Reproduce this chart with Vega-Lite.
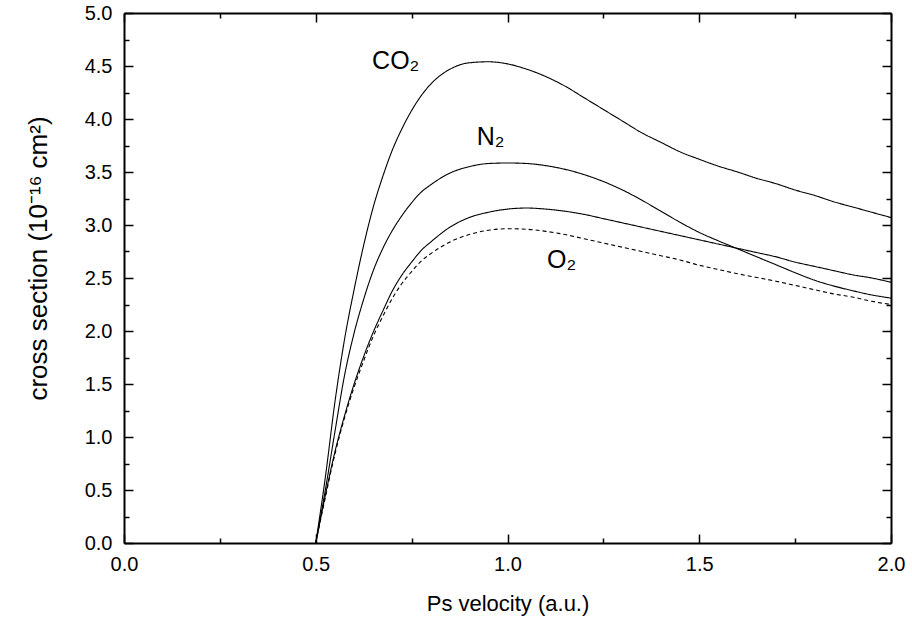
{
  "$schema": "https://vega.github.io/schema/vega-lite/v6.json",
  "width": 767,
  "height": 530,
  "autosize": {"type": "none"},
  "padding": {"left": 124, "top": 13, "right": 21, "bottom": 75},
  "background": "white",
  "config": {
    "view": {"stroke": null},
    "font": "Liberation Sans",
    "axis": {
      "domainColor": "black",
      "domainWidth": 2,
      "tickColor": "black",
      "tickWidth": 1.5,
      "labelColor": "black",
      "labelFont": "Liberation Sans",
      "labelFontSize": 20,
      "titleFont": "Liberation Sans",
      "titleFontSize": 22,
      "titleFontWeight": "normal",
      "titleColor": "black",
      "grid": false,
      "labelOverlap": false,
      "labelFlush": false,
      "labelBound": false
    }
  },
  "datasets": {
    "curves": [
      {"curve": "CO2", "v": 0.5, "sigma": 0},
      {"curve": "CO2", "v": 0.525, "sigma": 0.62},
      {"curve": "CO2", "v": 0.55, "sigma": 1.33},
      {"curve": "CO2", "v": 0.575, "sigma": 1.92},
      {"curve": "CO2", "v": 0.6, "sigma": 2.39},
      {"curve": "CO2", "v": 0.625, "sigma": 2.81},
      {"curve": "CO2", "v": 0.65, "sigma": 3.17},
      {"curve": "CO2", "v": 0.675, "sigma": 3.46},
      {"curve": "CO2", "v": 0.7, "sigma": 3.71},
      {"curve": "CO2", "v": 0.725, "sigma": 3.91},
      {"curve": "CO2", "v": 0.75, "sigma": 4.08},
      {"curve": "CO2", "v": 0.775, "sigma": 4.22},
      {"curve": "CO2", "v": 0.8, "sigma": 4.33},
      {"curve": "CO2", "v": 0.85, "sigma": 4.47},
      {"curve": "CO2", "v": 0.9, "sigma": 4.53},
      {"curve": "CO2", "v": 0.95, "sigma": 4.54},
      {"curve": "CO2", "v": 1.0, "sigma": 4.52},
      {"curve": "CO2", "v": 1.05, "sigma": 4.47},
      {"curve": "CO2", "v": 1.1, "sigma": 4.40},
      {"curve": "CO2", "v": 1.15, "sigma": 4.31},
      {"curve": "CO2", "v": 1.2, "sigma": 4.20},
      {"curve": "CO2", "v": 1.25, "sigma": 4.09},
      {"curve": "CO2", "v": 1.3, "sigma": 3.98},
      {"curve": "CO2", "v": 1.35, "sigma": 3.87},
      {"curve": "CO2", "v": 1.4, "sigma": 3.78},
      {"curve": "CO2", "v": 1.45, "sigma": 3.69},
      {"curve": "CO2", "v": 1.5, "sigma": 3.62},
      {"curve": "CO2", "v": 1.55, "sigma": 3.555},
      {"curve": "CO2", "v": 1.6, "sigma": 3.50},
      {"curve": "CO2", "v": 1.65, "sigma": 3.44},
      {"curve": "CO2", "v": 1.7, "sigma": 3.39},
      {"curve": "CO2", "v": 1.75, "sigma": 3.33},
      {"curve": "CO2", "v": 1.8, "sigma": 3.28},
      {"curve": "CO2", "v": 1.85, "sigma": 3.22},
      {"curve": "CO2", "v": 1.9, "sigma": 3.17},
      {"curve": "CO2", "v": 1.95, "sigma": 3.12},
      {"curve": "CO2", "v": 2.0, "sigma": 3.07},
      {"curve": "N2", "v": 0.5, "sigma": 0},
      {"curve": "N2", "v": 0.525, "sigma": 0.50},
      {"curve": "N2", "v": 0.55, "sigma": 1.05},
      {"curve": "N2", "v": 0.575, "sigma": 1.58},
      {"curve": "N2", "v": 0.6, "sigma": 1.98},
      {"curve": "N2", "v": 0.625, "sigma": 2.30},
      {"curve": "N2", "v": 0.65, "sigma": 2.57},
      {"curve": "N2", "v": 0.675, "sigma": 2.78},
      {"curve": "N2", "v": 0.7, "sigma": 2.95},
      {"curve": "N2", "v": 0.725, "sigma": 3.09},
      {"curve": "N2", "v": 0.75, "sigma": 3.21},
      {"curve": "N2", "v": 0.775, "sigma": 3.31},
      {"curve": "N2", "v": 0.8, "sigma": 3.38},
      {"curve": "N2", "v": 0.85, "sigma": 3.49},
      {"curve": "N2", "v": 0.9, "sigma": 3.55},
      {"curve": "N2", "v": 0.95, "sigma": 3.58},
      {"curve": "N2", "v": 1.0, "sigma": 3.585},
      {"curve": "N2", "v": 1.05, "sigma": 3.58},
      {"curve": "N2", "v": 1.1, "sigma": 3.56},
      {"curve": "N2", "v": 1.15, "sigma": 3.525},
      {"curve": "N2", "v": 1.2, "sigma": 3.475},
      {"curve": "N2", "v": 1.25, "sigma": 3.41},
      {"curve": "N2", "v": 1.3, "sigma": 3.33},
      {"curve": "N2", "v": 1.35, "sigma": 3.235},
      {"curve": "N2", "v": 1.4, "sigma": 3.13},
      {"curve": "N2", "v": 1.45, "sigma": 3.025},
      {"curve": "N2", "v": 1.5, "sigma": 2.93},
      {"curve": "N2", "v": 1.55, "sigma": 2.85},
      {"curve": "N2", "v": 1.6, "sigma": 2.775},
      {"curve": "N2", "v": 1.65, "sigma": 2.70},
      {"curve": "N2", "v": 1.7, "sigma": 2.625},
      {"curve": "N2", "v": 1.75, "sigma": 2.55},
      {"curve": "N2", "v": 1.8, "sigma": 2.48},
      {"curve": "N2", "v": 1.85, "sigma": 2.425},
      {"curve": "N2", "v": 1.9, "sigma": 2.38},
      {"curve": "N2", "v": 1.95, "sigma": 2.34},
      {"curve": "N2", "v": 2.0, "sigma": 2.31},
      {"curve": "O2 (solid)", "v": 0.5, "sigma": 0},
      {"curve": "O2 (solid)", "v": 0.525, "sigma": 0.45},
      {"curve": "O2 (solid)", "v": 0.55, "sigma": 0.86},
      {"curve": "O2 (solid)", "v": 0.575, "sigma": 1.20},
      {"curve": "O2 (solid)", "v": 0.6, "sigma": 1.50},
      {"curve": "O2 (solid)", "v": 0.625, "sigma": 1.76},
      {"curve": "O2 (solid)", "v": 0.65, "sigma": 1.99},
      {"curve": "O2 (solid)", "v": 0.675, "sigma": 2.19},
      {"curve": "O2 (solid)", "v": 0.7, "sigma": 2.38},
      {"curve": "O2 (solid)", "v": 0.725, "sigma": 2.53},
      {"curve": "O2 (solid)", "v": 0.75, "sigma": 2.65},
      {"curve": "O2 (solid)", "v": 0.775, "sigma": 2.76},
      {"curve": "O2 (solid)", "v": 0.8, "sigma": 2.84},
      {"curve": "O2 (solid)", "v": 0.85, "sigma": 2.98},
      {"curve": "O2 (solid)", "v": 0.9, "sigma": 3.07},
      {"curve": "O2 (solid)", "v": 0.95, "sigma": 3.12},
      {"curve": "O2 (solid)", "v": 1.0, "sigma": 3.15},
      {"curve": "O2 (solid)", "v": 1.05, "sigma": 3.16},
      {"curve": "O2 (solid)", "v": 1.1, "sigma": 3.15},
      {"curve": "O2 (solid)", "v": 1.15, "sigma": 3.13},
      {"curve": "O2 (solid)", "v": 1.2, "sigma": 3.10},
      {"curve": "O2 (solid)", "v": 1.25, "sigma": 3.06},
      {"curve": "O2 (solid)", "v": 1.3, "sigma": 3.02},
      {"curve": "O2 (solid)", "v": 1.35, "sigma": 2.98},
      {"curve": "O2 (solid)", "v": 1.4, "sigma": 2.94},
      {"curve": "O2 (solid)", "v": 1.45, "sigma": 2.90},
      {"curve": "O2 (solid)", "v": 1.5, "sigma": 2.86},
      {"curve": "O2 (solid)", "v": 1.55, "sigma": 2.82},
      {"curve": "O2 (solid)", "v": 1.6, "sigma": 2.78},
      {"curve": "O2 (solid)", "v": 1.65, "sigma": 2.74},
      {"curve": "O2 (solid)", "v": 1.7, "sigma": 2.70},
      {"curve": "O2 (solid)", "v": 1.75, "sigma": 2.65},
      {"curve": "O2 (solid)", "v": 1.8, "sigma": 2.61},
      {"curve": "O2 (solid)", "v": 1.85, "sigma": 2.57},
      {"curve": "O2 (solid)", "v": 1.9, "sigma": 2.53},
      {"curve": "O2 (solid)", "v": 1.95, "sigma": 2.50},
      {"curve": "O2 (solid)", "v": 2.0, "sigma": 2.46},
      {"curve": "O2 (dashed)", "v": 0.5, "sigma": 0},
      {"curve": "O2 (dashed)", "v": 0.525, "sigma": 0.43},
      {"curve": "O2 (dashed)", "v": 0.55, "sigma": 0.84},
      {"curve": "O2 (dashed)", "v": 0.575, "sigma": 1.18},
      {"curve": "O2 (dashed)", "v": 0.6, "sigma": 1.47},
      {"curve": "O2 (dashed)", "v": 0.625, "sigma": 1.72},
      {"curve": "O2 (dashed)", "v": 0.65, "sigma": 1.95},
      {"curve": "O2 (dashed)", "v": 0.675, "sigma": 2.14},
      {"curve": "O2 (dashed)", "v": 0.7, "sigma": 2.31},
      {"curve": "O2 (dashed)", "v": 0.725, "sigma": 2.45},
      {"curve": "O2 (dashed)", "v": 0.75, "sigma": 2.56},
      {"curve": "O2 (dashed)", "v": 0.775, "sigma": 2.66},
      {"curve": "O2 (dashed)", "v": 0.8, "sigma": 2.73},
      {"curve": "O2 (dashed)", "v": 0.85, "sigma": 2.84},
      {"curve": "O2 (dashed)", "v": 0.9, "sigma": 2.91},
      {"curve": "O2 (dashed)", "v": 0.95, "sigma": 2.95},
      {"curve": "O2 (dashed)", "v": 1.0, "sigma": 2.965},
      {"curve": "O2 (dashed)", "v": 1.05, "sigma": 2.96},
      {"curve": "O2 (dashed)", "v": 1.1, "sigma": 2.94},
      {"curve": "O2 (dashed)", "v": 1.15, "sigma": 2.91},
      {"curve": "O2 (dashed)", "v": 1.2, "sigma": 2.87},
      {"curve": "O2 (dashed)", "v": 1.25, "sigma": 2.83},
      {"curve": "O2 (dashed)", "v": 1.3, "sigma": 2.79},
      {"curve": "O2 (dashed)", "v": 1.35, "sigma": 2.75},
      {"curve": "O2 (dashed)", "v": 1.4, "sigma": 2.71},
      {"curve": "O2 (dashed)", "v": 1.45, "sigma": 2.67},
      {"curve": "O2 (dashed)", "v": 1.5, "sigma": 2.62},
      {"curve": "O2 (dashed)", "v": 1.55, "sigma": 2.58},
      {"curve": "O2 (dashed)", "v": 1.6, "sigma": 2.54},
      {"curve": "O2 (dashed)", "v": 1.65, "sigma": 2.505},
      {"curve": "O2 (dashed)", "v": 1.7, "sigma": 2.47},
      {"curve": "O2 (dashed)", "v": 1.75, "sigma": 2.43},
      {"curve": "O2 (dashed)", "v": 1.8, "sigma": 2.39},
      {"curve": "O2 (dashed)", "v": 1.85, "sigma": 2.35},
      {"curve": "O2 (dashed)", "v": 1.9, "sigma": 2.32},
      {"curve": "O2 (dashed)", "v": 1.95, "sigma": 2.28},
      {"curve": "O2 (dashed)", "v": 2.0, "sigma": 2.25}
    ],
    "labels": [
      {"label": "CO₂", "v": 0.647, "sigma": 4.47},
      {"label": "N₂", "v": 0.92, "sigma": 3.755},
      {"label": "O₂", "v": 1.103, "sigma": 2.594}
    ]
  },
  "layer": [
    {
      "data": {"name": "curves"},
      "mark": {"type": "line", "color": "black", "strokeWidth": 1.1, "interpolate": "monotone"},
      "encoding": {
        "x": {
          "field": "v", "type": "quantitative",
          "scale": {"domain": [0, 2], "nice": false, "zero": false},
          "axis": {
            "orient": "bottom",
            "values": [0, 0.25, 0.5, 0.75, 1, 1.25, 1.5, 1.75, 2],
            "labelExpr": "datum.value % 0.5 === 0 ? format(datum.value, '.1f') : ''",
            "tickSize": {"condition": {"test": "datum.value % 0.5 === 0", "value": -9}, "value": -5},
            "labelPadding": 20,
            "title": "Ps velocity (a.u.)",
            "titlePadding": 15
          }
        },
        "y": {
          "field": "sigma", "type": "quantitative",
          "scale": {"domain": [0, 5], "nice": false, "zero": false},
          "axis": {
            "orient": "left",
            "values": [0, 0.25, 0.5, 0.75, 1, 1.25, 1.5, 1.75, 2, 2.25, 2.5, 2.75, 3, 3.25, 3.5, 3.75, 4, 4.25, 4.5, 4.75, 5],
            "labelExpr": "datum.value % 0.5 === 0 ? format(datum.value, '.1f') : ''",
            "tickSize": {"condition": {"test": "datum.value % 0.5 === 0", "value": -9}, "value": -5},
            "labelPadding": 21,
            "title": "cross section (10⁻¹⁶ cm²)",
            "titleFontSize": 26,
            "titleX": -86,
            "titleY": 245,
            "titleAlign": "center",
            "titleBaseline": "middle",
            "titleAngle": -90
          }
        },
        "strokeDash": {
          "field": "curve", "type": "nominal",
          "scale": {"domain": ["CO2", "N2", "O2 (solid)", "O2 (dashed)"], "range": [[1, 0], [1, 0], [1, 0], [4, 3]]},
          "legend": null
        }
      }
    },
    {
      "data": {"name": "labels"},
      "mark": {"type": "text", "align": "left", "baseline": "alphabetic", "fontSize": 25, "font": "Liberation Sans", "color": "black"},
      "encoding": {
        "x": {
          "field": "v", "type": "quantitative",
          "scale": {"domain": [0, 2], "nice": false, "zero": false},
          "axis": {
            "orient": "top",
            "values": [0, 0.25, 0.5, 0.75, 1, 1.25, 1.5, 1.75, 2],
            "labels": false,
            "tickSize": {"condition": {"test": "datum.value % 0.5 === 0", "value": -9}, "value": -5},
            "title": null
          }
        },
        "y": {
          "field": "sigma", "type": "quantitative",
          "scale": {"domain": [0, 5], "nice": false, "zero": false},
          "axis": {
            "orient": "right",
            "values": [0, 0.25, 0.5, 0.75, 1, 1.25, 1.5, 1.75, 2, 2.25, 2.5, 2.75, 3, 3.25, 3.5, 3.75, 4, 4.25, 4.5, 4.75, 5],
            "labels": false,
            "tickSize": {"condition": {"test": "datum.value % 0.5 === 0", "value": -9}, "value": -5},
            "title": null
          }
        },
        "text": {"field": "label", "type": "nominal"}
      }
    }
  ],
  "resolve": {"axis": {"x": "independent", "y": "independent"}}
}
